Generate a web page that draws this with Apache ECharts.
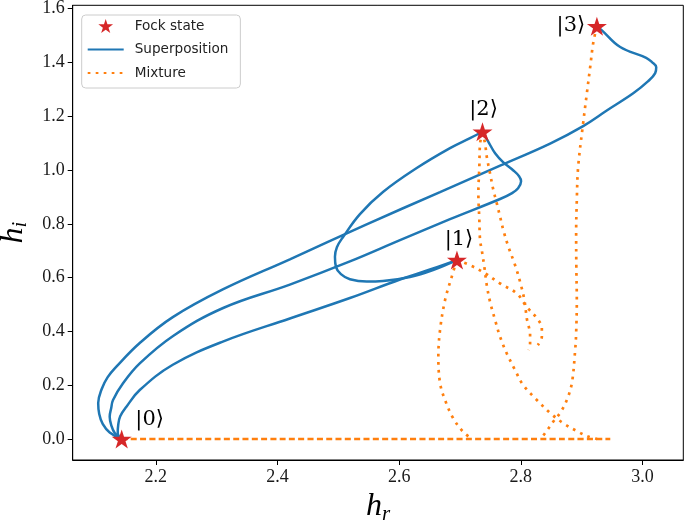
<!DOCTYPE html>
<html>
<head>
<meta charset="utf-8">
<script src="https://cdn.jsdelivr.net/npm/echarts@6/dist/echarts.min.js"></script>
<style>
  html, body { margin: 0; padding: 0; background: #fff; }
  #chart { width: 685px; height: 523px; }
</style>
</head>
<body>
<div id="chart"></div>
<script>
// Fock states
const fockX = [2.144, 2.695, 2.737, 2.925];
const fockY = [0.0, 0.665, 1.142, 1.534];
const fockNames = ["|0⟩", "|1⟩", "|2⟩", "|3⟩"];

// Superposition curves
const sup01X = [2.1436, 2.1375, 2.1383, 2.1416, 2.1518, 2.1737, 2.228, 2.3102, 2.4204, 2.5191, 2.6014, 2.6507, 2.6947];
const sup01Y = [0.0, 0.022, 0.052, 0.085, 0.120, 0.182, 0.276, 0.362, 0.448, 0.524, 0.593, 0.630, 0.665];

const sup02X = [2.1436, 2.1326, 2.1268, 2.1243, 2.1268, 2.1298, 2.1462, 2.1737, 2.2285, 2.3107, 2.4204, 2.5191, 2.6014, 2.6836, 2.7659, 2.7856, 2.7955, 2.8004, 2.7971, 2.7873, 2.7708, 2.7577, 2.7478, 2.7412, 2.7368];
const sup02Y = [0.0, 0.022, 0.052, 0.083, 0.115, 0.145, 0.207, 0.281, 0.383, 0.487, 0.574, 0.660, 0.739, 0.817, 0.892, 0.914, 0.932, 0.958, 0.977, 0.999, 1.029, 1.062, 1.100, 1.126, 1.142];

const sup03X = [2.1436, 2.1243, 2.1128, 2.1071, 2.1054, 2.1112, 2.121, 2.1353, 2.1737, 2.228, 2.3102, 2.4204, 2.5438, 2.6672, 2.7659, 2.8481, 2.9024, 2.9419, 2.9847, 3.0093, 3.0208, 3.0225, 3.0159, 3.006, 2.9633, 2.9332, 2.925];
const sup03Y = [0.0, 0.024, 0.056, 0.093, 0.134, 0.186, 0.230, 0.269, 0.357, 0.453, 0.556, 0.668, 0.795, 0.918, 1.016, 1.098, 1.163, 1.222, 1.285, 1.330, 1.360, 1.382, 1.400, 1.417, 1.457, 1.519, 1.534];

const sup12X = [2.6947, 2.6557, 2.6178, 2.5734, 2.5466, 2.5191, 2.5043, 2.4961, 2.4945, 2.4977, 2.5076, 2.5356, 2.5734, 2.6289, 2.6836, 2.7165, 2.7368];
const sup12Y = [0.665, 0.628, 0.602, 0.587, 0.585, 0.594, 0.613, 0.640, 0.677, 0.713, 0.750, 0.836, 0.918, 1.007, 1.081, 1.118, 1.142];

// Mixture curves
const mix1X = [2.6947, 2.6864, 2.6754, 2.6672, 2.6644, 2.6672, 2.6754, 2.6886, 2.705, 2.7198];
const mix1Y = [0.665, 0.603, 0.516, 0.405, 0.306, 0.208, 0.145, 0.078, 0.027, 0.0];

const mix1HookX = [2.6947, 2.7165, 2.7412, 2.7659, 2.7934, 2.8098, 2.8289, 2.8345, 2.8345, 2.8279];
const mix1HookY = [0.665, 0.646, 0.616, 0.578, 0.541, 0.491, 0.442, 0.411, 0.380, 0.349];

const mix2HookX = [2.7368, 2.7412, 2.744, 2.7494, 2.7549, 2.7605, 2.7659, 2.7713, 2.7796, 2.7906, 2.7988, 2.8059, 2.8098, 2.8152, 2.8152, 2.8125];
const mix2HookY = [1.142, 1.098, 1.049, 0.987, 0.925, 0.876, 0.826, 0.776, 0.714, 0.646, 0.584, 0.516, 0.448, 0.386, 0.355, 0.331];

const mix2X = [2.7368, 2.733, 2.7318, 2.7302, 2.7318, 2.733, 2.7358, 2.74, 2.744, 2.7494, 2.7577, 2.7659, 2.7769, 2.7906, 2.8037, 2.8263, 2.8481, 2.8695, 2.8942, 2.9106, 2.9254];
const mix2Y = [1.142, 1.098, 1.012, 0.913, 0.814, 0.739, 0.702, 0.640, 0.572, 0.510, 0.442, 0.380, 0.318, 0.256, 0.201, 0.145, 0.097, 0.059, 0.027, 0.009, 0.0];

const mix3X = [2.925, 2.9189, 2.914, 2.9085, 2.9024, 2.8942, 2.892, 2.8909, 2.8912, 2.892, 2.8909, 2.8893, 2.8839, 2.8756, 2.8646, 2.8531, 2.8399, 2.8317];
const mix3Y = [1.534, 1.471, 1.383, 1.285, 1.174, 1.012, 0.888, 0.765, 0.640, 0.516, 0.394, 0.331, 0.208, 0.145, 0.097, 0.064, 0.022, 0.0];

const mixBaseX = [2.144, 2.947];
const mixBaseY = [0.0, 0.0];

// axes
const xTicks = [2.2, 2.4, 2.6, 2.8, 3.0];
const yTicks = [0.0, 0.2, 0.4, 0.6, 0.8, 1.0, 1.2, 1.4, 1.6];
const xMin = 2.0635, xMax = 3.067;
const yMin = -0.078, yMax = 1.612;

// label offsets of the kets (px, relative to star centre)
const ketOffsets = [[28, -19], [2, -21], [1, -22], [-26, -1]];

const STAR = "path://M50,0 L61.2,34.5 L97.6,34.5 L68.2,55.9 L79.4,90.5 L50,69.1 L20.6,90.5 L31.8,55.9 L2.4,34.5 L38.8,34.5 Z";

function pts(xs, ys) {
  return xs.map((x, i) => [x, ys[i]]);
}

function supSeries(xs, ys) {
  return {
    name: "Superposition",
    type: "line",
    data: pts(xs, ys),
    symbol: "none",
    smooth: 0.4,
    lineStyle: { color: "#1f77b4", width: 2.5 },
    itemStyle: { color: "#1f77b4" },
    z: 2,
  };
}

function mixSeries(xs, ys, dash) {
  return {
    name: "Mixture",
    type: "line",
    data: pts(xs, ys),
    symbol: "none",
    smooth: 0.35,
    lineStyle: { color: "#ff7f0e", width: 2.7, type: dash || [2.7, 5.3], cap: "butt" },
    itemStyle: { color: "#ff7f0e" },
    z: 3,
  };
}

const serifTick = { fontFamily: "Liberation Serif", fontSize: 18, color: "#1a1a1a" };
const axisRich = {
  h: { fontFamily: "Liberation Serif", fontStyle: "italic", fontSize: 32, lineHeight: 36, color: "#000" },
  s: { fontFamily: "Liberation Serif", fontStyle: "italic", fontSize: 21, lineHeight: 20, padding: [10, 0, 0, 0], verticalAlign: "bottom", color: "#000" },
};
const noSymbol = { color: "rgba(0,0,0,0)", borderWidth: 0, opacity: 0 };

const chart = echarts.init(document.getElementById("chart"));
chart.setOption({
  animation: false,
  grid: {
    left: 72.7,
    right: 1.7,
    top: 5.3,
    bottom: 63,
    containLabel: false,
    outerBoundsMode: "none",
    show: true,
    borderColor: "#000",
    borderWidth: 1,
  },
  legend: {
    data: [
      { name: "Fock state" },
      { name: "Superposition", itemStyle: noSymbol },
      { name: "Mixture", itemStyle: noSymbol },
    ],
    orient: "vertical",
    left: 81.7,
    top: 15,
    padding: [4, 12, 8, 5],
    itemWidth: 36,
    itemHeight: 14,
    itemGap: 9.5,
    backgroundColor: "rgba(255,255,255,0.8)",
    borderColor: "#cccccc",
    borderWidth: 1,
    borderRadius: 4,
    textStyle: { fontFamily: "DejaVu Sans", fontSize: 13.6, color: "#222", padding: [0, 0, 0, 6] },
  },
  xAxis: {
    type: "value",
    min: xMin,
    max: xMax,
    name: "{h|h}{s|r}",
    nameLocation: "middle",
    nameGap: 28,
    nameTextStyle: { rich: axisRich },
    axisLine: { show: true, onZero: false, lineStyle: { color: "#000", width: 1 } },
    axisTick: { show: true, length: 5, lineStyle: { color: "#000" }, customValues: xTicks },
    axisLabel: Object.assign({ customValues: xTicks, margin: 8, formatter: (v) => v.toFixed(1) }, serifTick),
    splitLine: { show: false },
  },
  yAxis: {
    type: "value",
    min: yMin,
    max: yMax,
    name: "{h|h}{s|i}",
    nameLocation: "middle",
    nameGap: 40,
    nameTextStyle: { rich: axisRich },
    axisLine: { show: true, onZero: false, lineStyle: { color: "#000", width: 1 } },
    axisTick: { show: true, length: 5, lineStyle: { color: "#000" }, customValues: yTicks },
    axisLabel: Object.assign({ customValues: yTicks, margin: 8, formatter: (v) => v.toFixed(1) }, serifTick),
    splitLine: { show: false },
  },
  series: [
    supSeries(sup01X, sup01Y),
    supSeries(sup02X, sup02Y),
    supSeries(sup03X, sup03Y),
    supSeries(sup12X, sup12Y),
    mixSeries(mix1X, mix1Y),
    mixSeries(mix1HookX, mix1HookY),
    mixSeries(mix2HookX, mix2HookY),
    mixSeries(mix2X, mix2Y),
    mixSeries(mix3X, mix3Y),
    mixSeries(mixBaseX, mixBaseY, [6, 3.3]),
    {
      name: "Fock state",
      type: "scatter",
      symbol: STAR,
      symbolKeepAspect: true,
      symbolSize: 20,
      itemStyle: { color: "#d62728", opacity: 1 },
      z: 5,
      label: {
        show: true,
        position: "inside",
        formatter: "{b}",
        fontFamily: "DejaVu Serif",
        fontSize: 21,
        color: "#000",
      },
      data: fockX.map((x, i) => ({
        value: [x, fockY[i]],
        name: fockNames[i],
        label: { offset: ketOffsets[i] },
      })),
    },
  ],
});
</script>
</body>
</html>
